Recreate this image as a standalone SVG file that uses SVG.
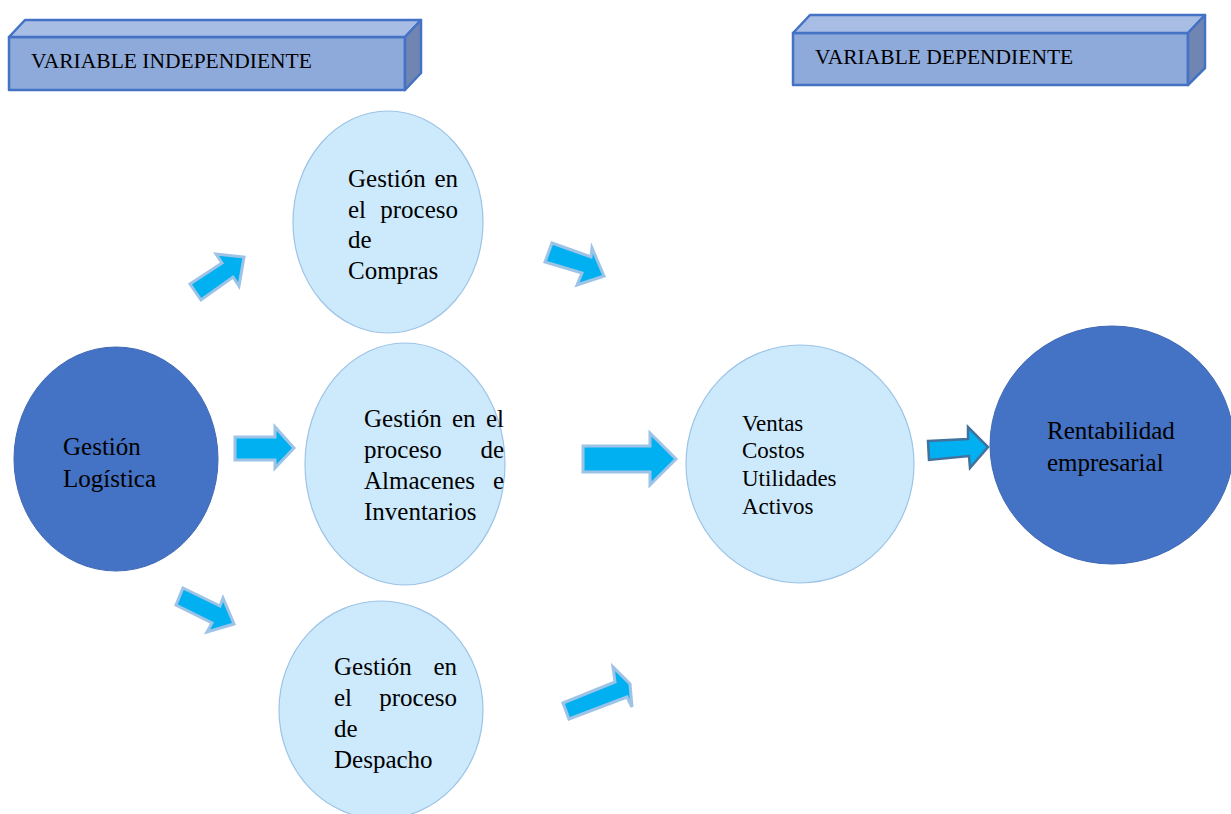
<svg xmlns="http://www.w3.org/2000/svg" width="1231" height="814" viewBox="0 0 1231 814">
<style>
.bf{fill:#8eaadb;stroke:#4472c4;stroke-width:2.5;stroke-linejoin:round}
.bt{fill:#a8bde4;stroke:#4472c4;stroke-width:2.5;stroke-linejoin:round}
.br{fill:#7185b2;stroke:#4472c4;stroke-width:2.5;stroke-linejoin:round}
.lt{fill:#cdeafc;stroke:#9dc3e6;stroke-width:1.2}
.dk{fill:#4472c4;stroke:#4069b5;stroke-width:1}
.ar{fill:#00b0f0;stroke:#9dc3e6;stroke-width:3;stroke-linejoin:miter}
.ar2{fill:#00b0f0;stroke:#41719c;stroke-width:2.5;stroke-linejoin:miter}
text{font-family:"Liberation Serif","Times New Roman","DejaVu Serif",serif;fill:#000}
.t{font-size:25px}
.s{font-size:23px}
.h{font-size:21.5px}
.e{text-anchor:end}
</style>
<rect width="1231" height="814" fill="#fff"/>
<g id="var-independiente">
<rect class="bf" x="9" y="37" width="396" height="53"/>
<polygon class="bt" points="9,37 25,20 421,20 405,37"/>
<polygon class="br" points="405,37 421,20 421,73 405,90"/>
<text class="h" x="31" y="68">VARIABLE INDEPENDIENTE</text>
</g>
<g id="var-dependiente">
<rect class="bf" x="793" y="33" width="395" height="52"/>
<polygon class="bt" points="793,33 810,15 1205,15 1188,33"/>
<polygon class="br" points="1188,33 1205,15 1205,68 1188,85"/>
<text class="h" x="815" y="64">VARIABLE DEPENDIENTE</text>
</g>
<g id="connectors">
<polygon class="ar" points="190,284 222,263 216,254 244,257 239,286 233,277 201,300"/>
<polygon class="ar" points="552,243 591,257 592,248 604,276 577,285 582,273 545,262"/>
<polygon class="ar" points="235,437 275,437 275,427 294,448 275,468 275,460 235,460"/>
<polygon class="ar" points="583,446 650,446 650,433 676,459 650,485 650,472 583,472"/>
<polygon class="ar2" points="928,441 968,439 968,427 988,447 970,468 969,456 929,460"/>
<polygon class="ar" points="183,588 220,606 223,598 234,624 207,632 212,623 176,605"/>
<polygon class="ar" points="563,703 615,682 613,667 630,684 632,707 627,697 569,719"/>
</g>
<g id="gestion-logistica">
<ellipse class="dk" cx="116" cy="459" rx="102" ry="112"/>
<text class="t" x="63" y="455">Gestión</text>
<text class="t" x="63" y="487">Logística</text>
</g>
<g id="compras">
<ellipse class="lt" cx="388" cy="222" rx="95" ry="111"/>
<text class="t" x="348" y="187">Gestión</text><text class="t e" x="458" y="187">en</text>
<text class="t" x="348" y="218">el</text><text class="t e" x="458" y="218">proceso</text>
<text class="t" x="348" y="248">de</text>
<text class="t" x="348" y="279">Compras</text>
</g>
<g id="almacenes">
<ellipse class="lt" cx="405" cy="464" rx="100" ry="121"/>
<text class="t" x="364" y="427">Gestión</text><text class="t" x="452" y="427">en</text><text class="t e" x="504" y="427">el</text>
<text class="t" x="364" y="458">proceso</text><text class="t e" x="504" y="458">de</text>
<text class="t" x="364" y="489">Almacenes</text><text class="t e" x="504" y="489">e</text>
<text class="t" x="364" y="520">Inventarios</text>
</g>
<g id="despacho">
<ellipse class="lt" cx="381" cy="710" rx="102" ry="109"/>
<text class="t" x="334" y="675">Gestión</text><text class="t e" x="457" y="675">en</text>
<text class="t" x="334" y="706">el</text><text class="t e" x="457" y="706">proceso</text>
<text class="t" x="334" y="737">de</text>
<text class="t" x="334" y="768">Despacho</text>
</g>
<g id="ventas">
<ellipse class="lt" cx="800" cy="464" rx="114" ry="119"/>
<text class="s" x="742" y="431">Ventas</text>
<text class="s" x="742" y="458">Costos</text>
<text class="s" x="742" y="486">Utilidades</text>
<text class="s" x="742" y="514">Activos</text>
</g>
<g id="rentabilidad">
<ellipse class="dk" cx="1112" cy="445" rx="122" ry="119"/>
<text class="t" x="1047" y="439">Rentabilidad</text>
<text class="t" x="1047" y="471">empresarial</text>
</g>
</svg>
